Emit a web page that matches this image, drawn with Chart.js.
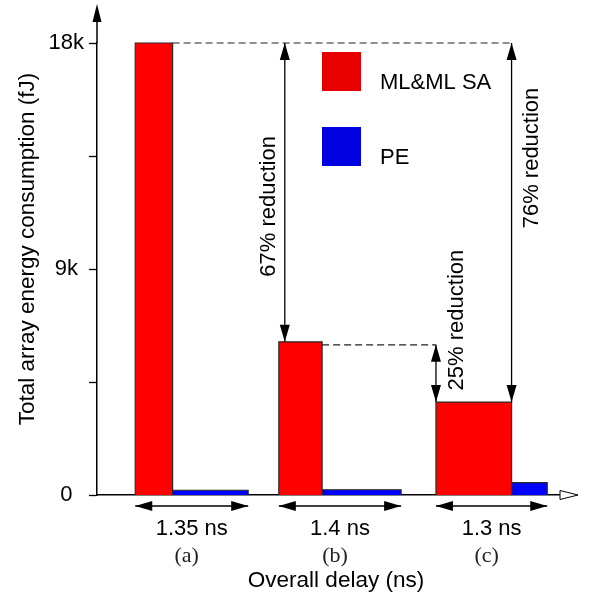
<!DOCTYPE html>
<html>
<head>
<meta charset="utf-8">
<script src="https://cdn.jsdelivr.net/npm/chart.js@4.4.1/dist/chart.umd.min.js"></script>
<style>
  body { margin: 0; background: #fff; }
  canvas { display: block; }
</style>
</head>
<body>
<canvas id="energy-chart" width="589" height="599"></canvas>
<script>
const groupNames = ['(a)', '(b)', '(c)'];
const delayLabels = ['1.35 ns', '1.4 ns', '1.3 ns'];
const groupStart = [0.45, 2.14, 3.99];   // where each group starts on the delay axis (ns)
const mlDelay = [0.44, 0.51, 0.89];
const peDelay = [0.89, 0.93, 0.42];
const mlEnergy = [18000, 6100, 3700];
const peEnergy = [190, 210, 490];
const yTicks = [0, 4500, 9000, 13500, 18000];
const yTickLabels = ['0', '', '9k', '', '18k'];
const reductionLabels = ['67% reduction', '76% reduction', '25% reduction'];
const seriesNames = ['ML&ML SA', 'PE'];
const seriesColors = ['#ff0000', '#0000ff'];
const xTitle = 'Overall delay (ns)';
const yTitle = 'Total array energy consumption (fJ)';

const FONT = "'Liberation Sans', Arial, Helvetica, sans-serif";
Chart.defaults.font.family = FONT;
Chart.defaults.color = '#000';

function rectPoints(x0, width, h) {
    return [{x: x0, y: 0}, {x: x0, y: h}, {x: x0 + width, y: h}, {x: x0 + width, y: 0}];
}

const datasets = [];
groupNames.forEach((g, i) => {
    datasets.push({
        label: seriesNames[0],
        data: rectPoints(groupStart[i], mlDelay[i], mlEnergy[i]),
        backgroundColor: seriesColors[0],
        borderColor: '#2a2a2a',
        borderWidth: 1.2,
        fill: 'origin',
        showLine: true,
        pointRadius: 0,
        clip: 6
    });
    datasets.push({
        label: seriesNames[1],
        data: rectPoints(groupStart[i] + mlDelay[i], peDelay[i], peEnergy[i]),
        backgroundColor: seriesColors[1],
        borderColor: '#2a2a2a',
        borderWidth: 1.2,
        fill: 'origin',
        showLine: true,
        pointRadius: 0,
        clip: 6
    });
});

function arrowHead(ctx, x, y, angle, len, half, open) {
    ctx.save();
    ctx.translate(x, y);
    ctx.rotate(angle);
    ctx.beginPath();
    ctx.moveTo(0, 0);
    ctx.lineTo(-len, -half);
    ctx.lineTo(-len, half);
    ctx.closePath();
    if (open) {
        ctx.fillStyle = '#fff';
        ctx.fill();
        ctx.lineWidth = 1;
        ctx.strokeStyle = '#000';
        ctx.stroke();
    } else {
        ctx.fillStyle = '#000';
        ctx.fill();
    }
    ctx.restore();
}

function doubleArrow(ctx, x1, y1, x2, y2) {
    const a = Math.atan2(y2 - y1, x2 - x1);
    ctx.beginPath();
    ctx.moveTo(x1, y1);
    ctx.lineTo(x2, y2);
    ctx.lineWidth = 1.3;
    ctx.strokeStyle = '#000';
    ctx.stroke();
    arrowHead(ctx, x2, y2, a, 17, 5);
    arrowHead(ctx, x1, y1, a + Math.PI, 17, 5);
}

function rotatedText(ctx, text, cx, cy) {
    ctx.save();
    ctx.translate(cx, cy);
    ctx.rotate(-Math.PI / 2);
    ctx.fillText(text, 0, 0);
    ctx.restore();
}

const annotations = {
    id: 'annotations',
    afterDraw(chart) {
        const {ctx, chartArea, scales: {x, y}} = chart;
        const redLeft = i => x.getPixelForValue(groupStart[i]);
        const redRight = i => x.getPixelForValue(groupStart[i] + mlDelay[i]);
        const groupEnd = i => x.getPixelForValue(groupStart[i] + mlDelay[i] + peDelay[i]);
        const ya = y.getPixelForValue(mlEnergy[0]);
        const yb = y.getPixelForValue(mlEnergy[1]);
        const yc = y.getPixelForValue(mlEnergy[2]);
        const y0 = y.getPixelForValue(0);

        ctx.save();
        // axis arrows
        ctx.strokeStyle = '#000';
        ctx.lineWidth = 1.5;
        ctx.beginPath();
        ctx.moveTo(chartArea.left, chartArea.top);
        ctx.lineTo(chartArea.left, 18);
        ctx.stroke();
        arrowHead(ctx, chartArea.left, 4, -Math.PI / 2, 18, 4.5);
        arrowHead(ctx, chartArea.right + 18, y0, 0, 18, 4.5, true);

        // axis titles
        ctx.fillStyle = '#000';
        ctx.font = '22.5px ' + FONT;
        ctx.textAlign = 'center';
        ctx.textBaseline = 'middle';
        rotatedText(ctx, yTitle, 28, 249);
        ctx.fillText(xTitle, 336, 581);

        // dashed guide lines
        ctx.setLineDash([7, 4]);
        ctx.strokeStyle = '#222';
        ctx.lineWidth = 1.2;
        ctx.beginPath();
        ctx.moveTo(redRight(0), ya);
        ctx.lineTo(redRight(2), ya);
        ctx.moveTo(redRight(1), yb + 3);
        ctx.lineTo(redLeft(2), yb + 3);
        ctx.stroke();
        ctx.setLineDash([]);

        // reduction arrows
        const x67 = redLeft(1) + 6;
        const x76 = redRight(2);
        const x25 = redLeft(2);
        doubleArrow(ctx, x67, ya, x67, yb);
        doubleArrow(ctx, x76, ya, x76, yc);
        doubleArrow(ctx, x25, yb + 3, x25, yc);

        ctx.fillStyle = '#000';
        ctx.font = '22px ' + FONT;
        rotatedText(ctx, reductionLabels[0], x67 - 16, (ya + yb) / 2 + 14);
        rotatedText(ctx, reductionLabels[1], x76 + 20, ya + 115);
        rotatedText(ctx, reductionLabels[2], x25 + 21, yc - 82);

        // delay arrows and group labels
        groupNames.forEach((g, i) => {
            const xl = redLeft(i), xr = groupEnd(i);
            doubleArrow(ctx, xl, y0 + 11, xr, y0 + 11);
            ctx.fillStyle = '#000';
            ctx.font = '22px ' + FONT;
            ctx.fillText(delayLabels[i], (xl + xr) / 2, y0 + 34);
            ctx.fillStyle = '#222';
            ctx.font = "22px 'Liberation Serif', 'Times New Roman', serif";
            ctx.fillText(g, (xl + xr) / 2 - 5, y0 + 61);
        });

        // legend
        const legendColors = ['#e60000', '#0000e0'];
        ctx.font = '22px ' + FONT;
        ctx.textAlign = 'left';
        seriesNames.forEach((name, i) => {
            const top = 52 + i * 75;
            ctx.fillStyle = legendColors[i];
            ctx.fillRect(322, top, 39, 39);
            ctx.fillStyle = '#000';
            ctx.fillText(name, 380, top + 31);
        });
        ctx.restore();
    }
};

new Chart(document.getElementById('energy-chart'), {
    type: 'scatter',
    data: { datasets: datasets },
    options: {
        responsive: false,
        animation: false,
        events: [],
        layout: { padding: { left: 0, top: 43, right: 29, bottom: 0 } },
        plugins: {
            legend: { display: false },
            tooltip: { enabled: false }
        },
        scales: {
            x: {
                type: 'linear',
                min: 0,
                max: 5.45,
                ticks: { display: false },
                grid: { display: false },
                border: { color: '#000', width: 1.5 },
                afterFit: scale => { scale.height = 104; }
            },
            y: {
                min: 0,
                max: 18000,
                afterBuildTicks: scale => { scale.ticks = yTicks.map(v => ({ value: v })); },
                ticks: {
                    callback: value => yTickLabels[yTicks.indexOf(value)],
                    font: { size: 22 },
                    color: '#000',
                    padding: 5,
                    crossAlign: 'center'
                },
                grid: { drawOnChartArea: false, tickLength: 8, color: '#000', tickWidth: 1.3 },
                border: { color: '#000', width: 1.5 },
                afterFit: scale => { scale.width = 97; }
            }
        }
    },
    plugins: [annotations]
});
</script>
</body>
</html>
